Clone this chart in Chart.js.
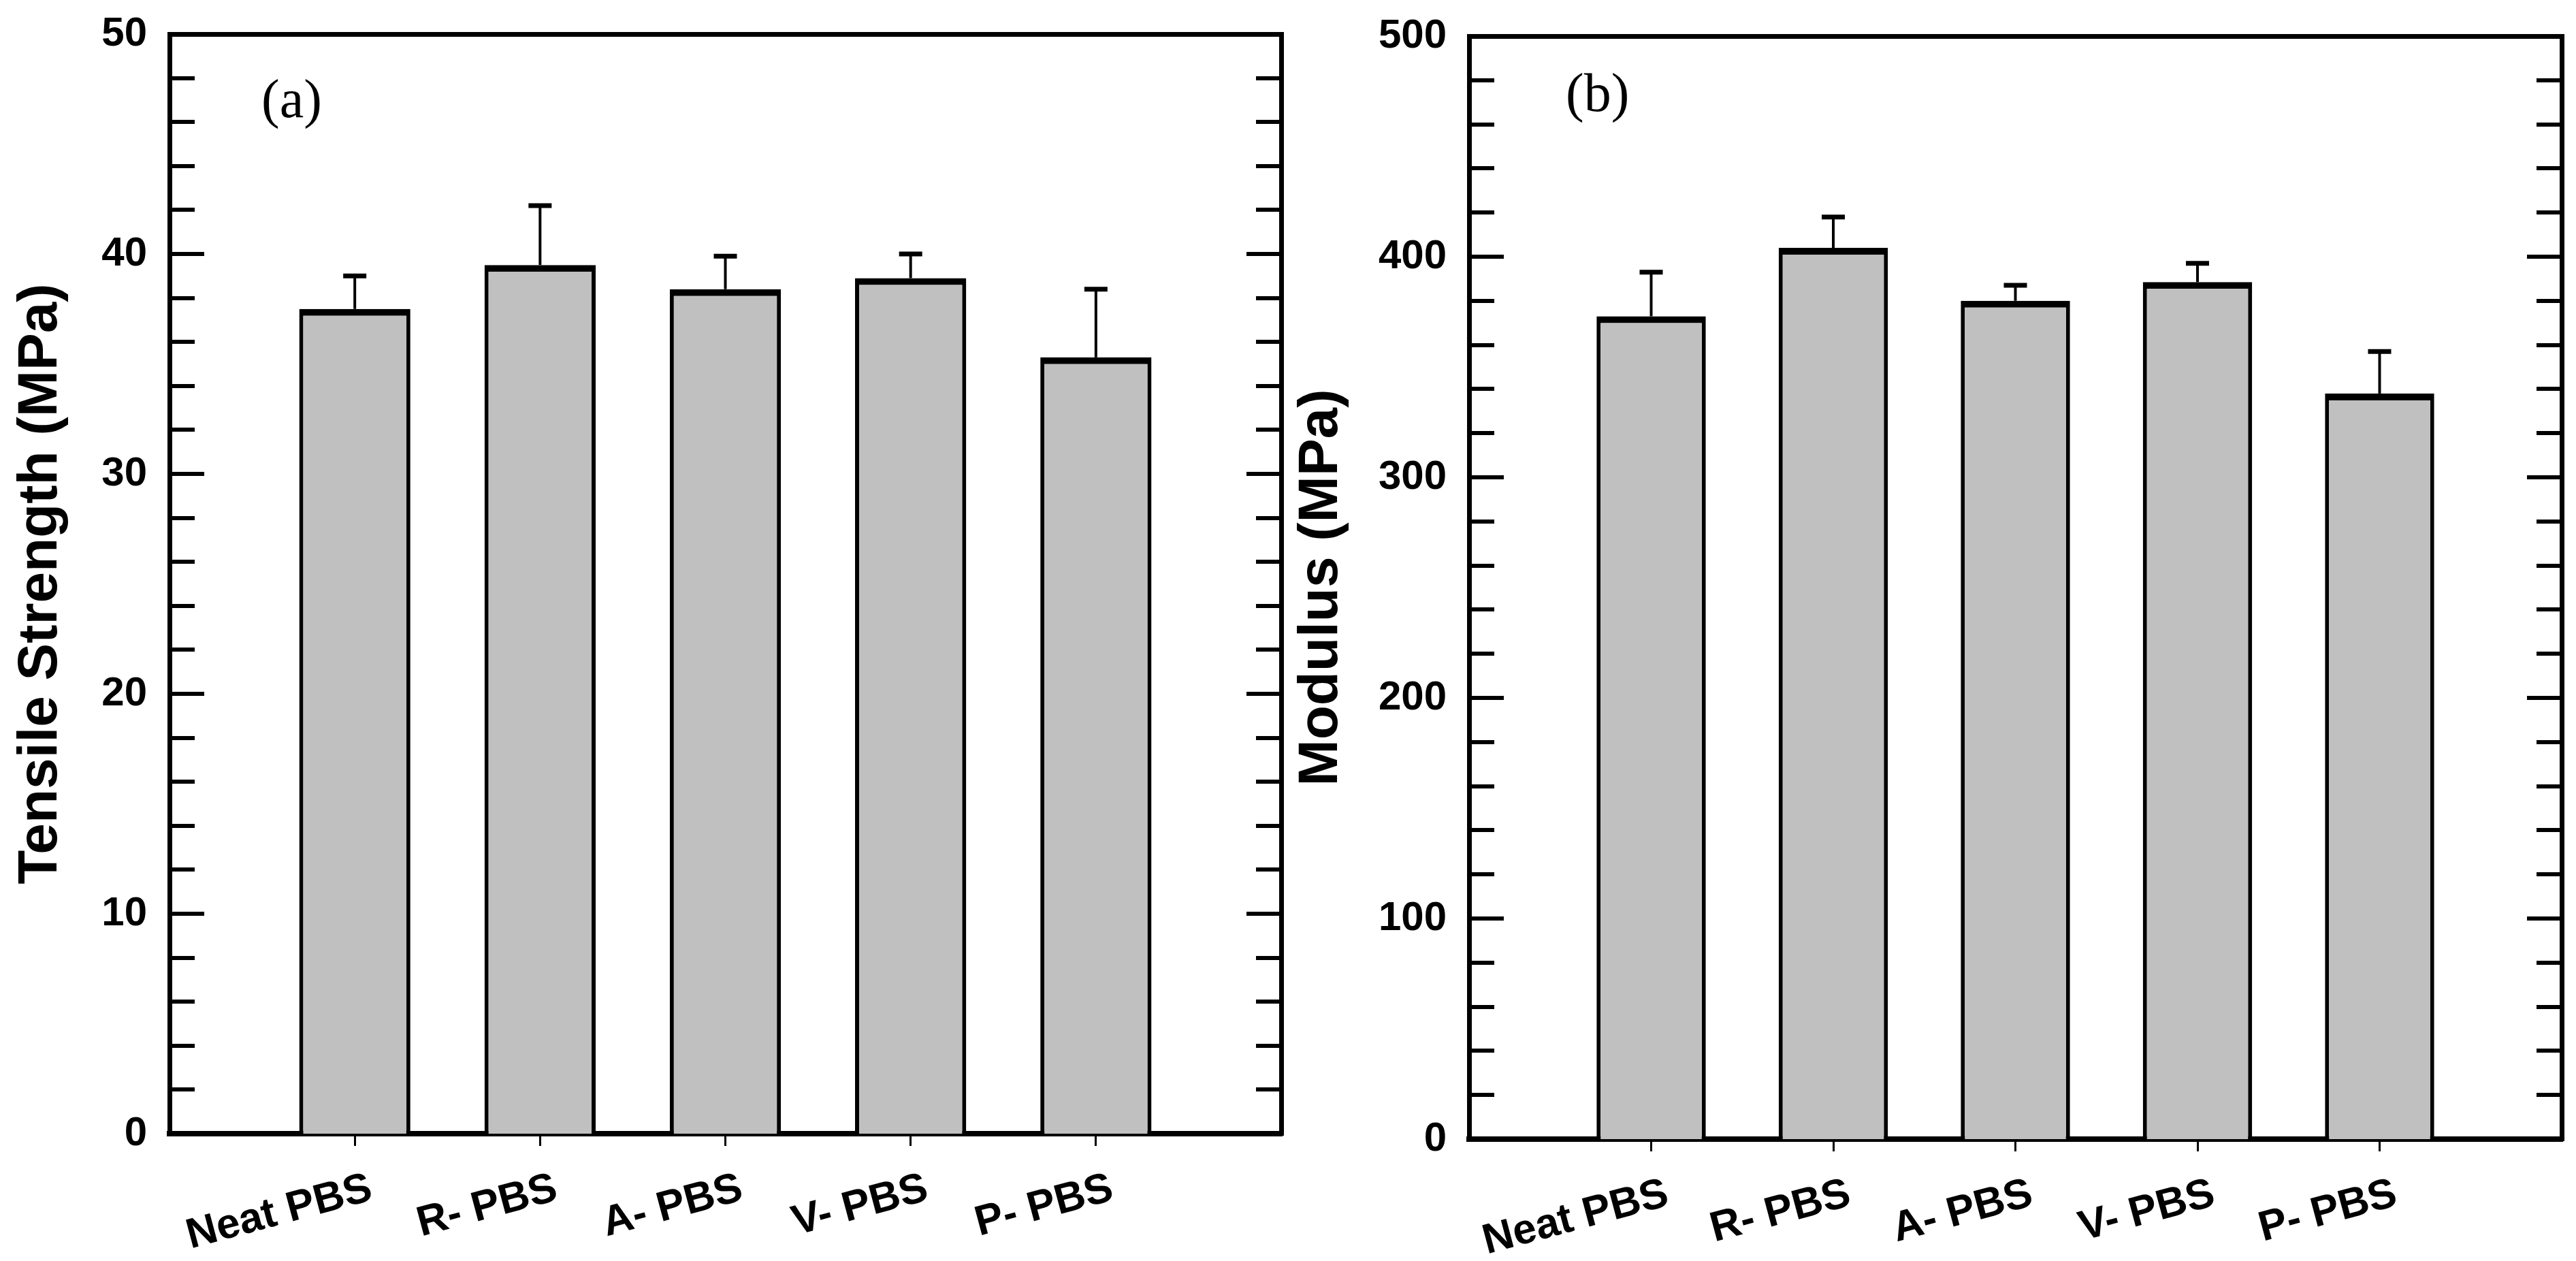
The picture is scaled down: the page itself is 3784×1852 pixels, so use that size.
<!DOCTYPE html>
<html>
<head>
<meta charset="utf-8">
<script src="https://cdn.jsdelivr.net/npm/chart.js@4.4.1/dist/chart.umd.min.js"></script>
<style>
  body { margin: 0; background: #fff; width: 3784px; height: 1852px; position: relative; overflow: hidden; }
  .panel { position: absolute; top: 0; height: 1852px; }
</style>
</head>
<body>
<div class="panel" style="left:0;width:1900px"><canvas id="tensileChart" width="1900" height="1852"></canvas></div>
<div class="panel" style="left:1900px;width:1884px"><canvas id="modulusChart" width="1884" height="1852"></canvas></div>
<script>
// data
const categories = ["Neat PBS", "R- PBS", "A- PBS", "V- PBS", "P- PBS"];
const tensileStrength = [37.5, 39.5, 38.4, 38.9, 35.3];
const tensileError = [1.5, 2.7, 1.5, 1.1, 3.1];
const modulus = [373, 404, 380, 388.5, 338];
const modulusError = [20, 14, 7, 8.5, 19];
const tensileTicks = [0, 10, 20, 30, 40, 50];
const modulusTicks = [0, 100, 200, 300, 400, 500];

Chart.defaults.font.family = '"Liberation Sans", Arial, sans-serif';
Chart.defaults.color = "#000";

// slot kosong di kiri dan kanan supaya bar ada di 1/6 ... 5/6
const slotLabels = ["", ...categories, ""];
const pad = arr => [null, ...arr, null];

// error bar (hanya ke atas)
const errorBarPlugin = {
  id: "errorBars",
  afterDatasetsDraw(chart, args, opts) {
    const { ctx, scales } = chart;
    const values = chart.data.datasets[0].data;
    ctx.save();
    ctx.strokeStyle = "#000";
    values.forEach((v, i) => {
      if (v === null) return;
      const px = scales.x.getPixelForValue(i);
      const y0 = scales.y.getPixelForValue(v);
      const y1 = scales.y.getPixelForValue(v + opts.errors[i]);
      ctx.lineWidth = 4;
      ctx.beginPath();
      ctx.moveTo(px, y0);
      ctx.lineTo(px, y1);
      ctx.stroke();
      ctx.lineWidth = 7;
      ctx.beginPath();
      ctx.moveTo(px - 17, y1);
      ctx.lineTo(px + 17, y1);
      ctx.stroke();
    });
    ctx.restore();
  }
};

// label panel (a) / (b)
const panelLetterPlugin = {
  id: "panelLetter",
  afterDraw(chart, args, opts) {
    const { ctx, chartArea } = chart;
    ctx.save();
    ctx.font = '80px "Liberation Serif", "Times New Roman", serif';
    ctx.fillStyle = "#000";
    ctx.textBaseline = "alphabetic";
    ctx.fillText(opts.text, chartArea.left + opts.dx, chartArea.top + opts.dy);
    ctx.restore();
  }
};

const makePanel = (canvasId, cfg) => {
  const min = cfg.ticks[0];
  const max = cfg.ticks[cfg.ticks.length - 1];
  const major = cfg.ticks[1] - cfg.ticks[0];
  const minor = major / 5;
  const lastIdx = slotLabels.length - 1;
  const xTickColor = c => (c.index === 0 || c.index === lastIdx) ? "rgba(0,0,0,0)" : "#000";
  const yTickColor = c => (c.tick && (c.tick.value <= min || c.tick.value >= max)) ? "rgba(0,0,0,0)" : "#000";

  // sumbu tanpa label: hanya tick ke dalam (dan garis frame)
  const tickAxis = (position, weight, step, len, width, showBorder) => ({
    type: "linear",
    position: position,
    weight: weight,
    min: min,
    max: max,
    ticks: { display: false, stepSize: step },
    grid: { drawOnChartArea: false, drawTicks: true, tickLength: -len, lineWidth: 6, tickWidth: 6, color: yTickColor },
    border: { display: showBorder, width: 7, color: "#000" },
    afterFit: s => { s.width = width; }
  });

  return new Chart(document.getElementById(canvasId), {
    type: "bar",
    data: {
      labels: slotLabels,
      datasets: [{
        data: pad(cfg.values),
        backgroundColor: "#c0c0c0",
        borderColor: "#000",
        borderWidth: { top: 10, left: 6, right: 6, bottom: 0 },
        borderSkipped: false,
        barPercentage: 0.6,
        categoryPercentage: 1.0
      }]
    },
    options: {
      responsive: false,
      animation: false,
      layout: { padding: { top: cfg.top, right: cfg.right, bottom: 0, left: 0 } },
      plugins: {
        legend: { display: false },
        tooltip: { enabled: false },
        errorBars: { errors: pad(cfg.errors) },
        panelLetter: cfg.letter
      },
      scales: {
        x: {
          type: "category",
          position: "bottom",
          offset: false,
          grid: { offset: false, drawOnChartArea: false, drawTicks: true, tickLength: 18, lineWidth: 3, color: xTickColor },
          border: { display: true, width: 8, color: "#000" },
          ticks: { autoSkip: false, minRotation: 15, maxRotation: 15, padding: 26, labelOffset: 24, font: { size: 62, weight: "bold" } },
          afterFit: s => {
            s.height = cfg.xHeight;
            s.paddingLeft = 0;
            s.paddingRight = 0;
          }
        },
        xTop: {
          type: "category",
          position: "top",
          offset: false,
          grid: { display: false },
          border: { display: true, width: 7, color: "#000" },
          ticks: { display: false },
          afterFit: s => { s.height = 0; }
        },
        y: {
          type: "linear",
          position: "left",
          weight: 20,
          min: min,
          max: max,
          ticks: {
            stepSize: major,
            padding: 0,
            font: { size: 60, weight: "bold", family: '"Liberation Sans Narrow", "Liberation Sans", Arial, sans-serif' }
          },
          grid: { display: false, drawTicks: false },
          border: { display: false },
          title: {
            display: true,
            text: cfg.title,
            font: { size: 82, weight: "bold", lineHeight: 1 },
            padding: { top: cfg.titlePad, bottom: 0 }
          },
          afterFit: s => { s.width = cfg.yWidth - 33; }
        },
        yMajor: tickAxis("left", 10, major, 51, 33, true),
        yMinor: tickAxis("left", 0, minor, 37, 0, false),
        yRight: tickAxis("right", 10, major, 51, 0, true),
        yRightMinor: tickAxis("right", 0, minor, 37, 0, false)
      }
    },
    plugins: [errorBarPlugin, panelLetterPlugin]
  });
};

makePanel("tensileChart", {
  values: tensileStrength,
  errors: tensileError,
  ticks: tensileTicks,
  title: "Tensile Strength (MPa)",
  titlePad: 19,
  top: 50, right: 18, yWidth: 249, xHeight: 187,
  letter: { text: "(a)", dx: 135, dy: 122 }
});

makePanel("modulusChart", {
  values: modulus,
  errors: modulusError,
  ticks: modulusTicks,
  title: "Modulus (MPa)",
  titlePad: 0,
  top: 53, right: 21, yWidth: 258, xHeight: 179,
  letter: { text: "(b)", dx: 142, dy: 110 }
});
</script>
</body>
</html>
